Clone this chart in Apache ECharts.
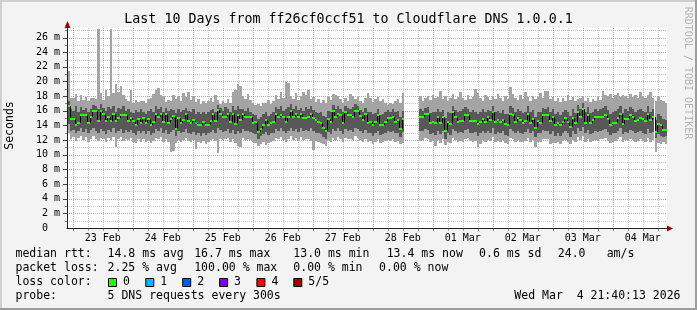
<!DOCTYPE html>
<html><head><meta charset="utf-8">
<script src="https://cdn.jsdelivr.net/npm/echarts@6/dist/echarts.min.js"></script>
<style>html,body{margin:0;padding:0;background:#f3f3f3}#c{width:697px;height:310px}</style>
</head><body><div id="c"></div>
<script>
// ---------- data ----------
const startHour = 21 + 40/60;          // Feb 22 21:40, hours since Feb 22 00:00
const dayLabels = ['23 Feb','24 Feb','25 Feb','26 Feb','27 Feb','28 Feb','01 Mar','02 Mar','03 Mar','04 Mar'];
const yLabelValues = [0,2,4,6,8,10,12,14,16,18,20,22,24,26];
const yMax = 27.3;

const medArr = [
16.7,14.9,14.9,14.1,14.4,15.4,15.4,15.4,14.4,15.2,16.0,16.0,
14.6,16.0,15.5,14.6,15.1,14.6,15.6,14.6,15.0,15.4,15.4,15.4,
14.6,15.0,14.6,14.0,14.9,14.4,15.0,14.3,14.9,14.1,14.5,15.6,
15.2,15.6,14.5,15.6,14.3,14.9,15.3,13.5,15.0,14.3,14.7,15.5,
14.6,14.3,14.7,14.3,14.1,14.1,14.5,14.0,14.0,14.6,15.5,14.6,
16.1,15.5,15.1,15.1,15.5,14.5,15.6,14.2,15.4,14.8,15.5,15.1,
15.1,15.1,14.4,14.5,13.1,13.5,14.1,14.8,14.1,14.3,14.5,15.6,
15.2,15.4,15.1,14.5,15.1,16.0,15.2,15.5,15.1,15.5,15.0,15.0,
15.1,15.5,15.0,14.7,14.5,14.3,13.7,13.3,14.9,14.5,16.0,15.1,
15.6,15.4,14.3,15.9,15.4,15.4,15.2,16.0,16.0,15.3,14.7,15.6,
14.4,14.5,14.0,14.5,15.4,14.0,14.0,14.5,15.0,15.0,15.1,14.5,
14.8,13.5,14.9,null,null,null,null,null,null,15.1,15.1,15.5,
15.5,14.3,14.5,14.3,15.1,14.3,15.1,13.3,14.5,14.2,15.9,15.1,
14.5,14.6,14.6,15.4,15.4,14.6,14.6,14.6,14.2,14.5,14.9,14.5,
15.1,14.8,15.8,14.5,14.7,14.5,14.7,14.2,14.1,15.6,15.4,14.5,
15.0,14.8,14.3,14.6,15.6,14.4,14.9,13.7,14.6,14.4,15.4,15.4,
15.4,14.6,15.1,14.0,14.4,14.0,14.5,15.0,14.5,13.8,15.0,14.4,
15.9,15.1,16.3,14.4,15.4,14.3,14.7,15.1,15.1,15.1,15.1,15.4,
14.9,14.0,14.4,14.4,15.0,15.5,14.2,14.9,14.9,15.4,15.1,14.6,
14.8,15.0,14.9,14.6,15.6,14.7,15.1,13.1,14.2,14.0,13.4,13.4];

const maxArr = [
21.4,17.8,17.8,18.3,17.4,18.1,17.5,17.9,17.3,17.8,17.8,17.6,
27.2,18.4,17.5,18.9,18.0,27.2,18.4,19.6,18.6,19.4,18.2,17.6,
17.4,18.8,17.1,17.5,17.2,17.4,17.3,17.0,17.6,17.8,18.3,18.9,
19.1,18.1,18.0,17.2,17.5,17.4,18.2,17.6,18.0,17.4,18.4,17.9,
18.6,17.5,18.0,17.2,17.6,16.9,17.4,17.0,17.3,17.8,17.2,18.1,
17.5,16.9,17.4,17.1,17.6,17.0,18.6,18.8,19.6,19.4,18.0,17.6,
18.3,17.5,17.0,16.8,16.9,16.6,17.1,17.0,17.5,16.9,17.4,18.1,
17.6,18.5,17.8,19.9,19.8,18.0,17.6,18.4,17.5,18.0,18.5,18.2,
18.9,17.6,17.9,17.2,17.6,17.0,17.5,17.1,17.9,17.5,18.3,18.2,
18.0,17.6,17.1,17.8,17.4,18.3,18.0,17.6,17.9,17.4,17.1,17.7,
18.4,17.8,17.2,17.6,17.9,17.3,17.6,17.0,16.8,17.1,16.9,17.4,
17.6,17.0,18.4,null,null,null,null,null,null,18.0,17.4,17.8,
18.0,17.5,18.2,17.7,17.9,18.7,17.6,18.0,17.4,17.8,18.3,17.6,
17.9,18.6,17.7,17.5,18.1,17.6,17.9,19.0,18.4,17.8,17.4,18.2,
17.9,17.5,18.0,17.6,18.3,17.7,17.4,18.0,17.6,19.2,18.3,17.8,
17.5,18.1,17.6,18.5,17.9,17.4,18.0,17.6,17.9,18.4,17.8,18.7,
18.7,17.6,17.9,17.3,17.7,17.2,17.8,17.4,18.1,17.5,17.9,17.3,
17.6,17.8,18.0,17.4,17.8,17.2,17.6,17.4,17.9,17.5,18.7,18.2,
18.0,18.3,17.8,18.1,18.4,17.9,18.2,18.0,17.7,18.3,17.9,18.1,
17.8,18.5,18.0,17.7,18.2,18.6,17.8,17.4,18.0,17.5,17.3,17.0];

const p4Arr = [
17.4,16.2,16.0,16.6,15.8,16.5,16.1,16.4,15.9,16.3,16.8,16.6,
16.2,16.9,16.4,16.0,16.5,16.3,16.7,15.9,16.4,16.2,16.6,16.0,
16.3,15.9,15.7,16.1,15.8,16.2,15.9,15.6,16.0,16.3,15.8,16.6,
16.2,16.5,15.9,16.4,16.0,16.3,16.1,15.7,16.2,15.9,16.1,16.4,
16.0,15.8,16.2,15.6,15.9,15.5,15.8,15.6,15.9,16.1,16.3,15.9,
16.8,16.4,16.0,16.5,16.2,15.8,16.6,16.1,16.7,16.2,16.3,16.0,
16.4,15.9,15.6,15.4,14.9,15.2,15.5,15.8,15.3,15.6,15.8,16.5,
16.2,16.6,16.0,16.3,16.5,16.9,16.2,16.7,16.1,16.4,16.0,16.5,
16.3,16.6,16.1,15.9,15.7,15.9,15.3,15.2,16.0,15.8,16.8,16.2,
16.7,16.3,15.8,16.6,16.4,16.2,16.5,16.9,16.7,16.1,15.9,16.4,
15.8,15.9,15.5,15.7,16.2,15.4,15.6,15.9,16.1,15.8,16.2,15.9,
16.0,15.1,16.0,null,null,null,null,null,null,16.2,16.0,16.4,
16.5,15.7,15.9,15.8,16.2,15.8,16.1,15.0,15.9,15.7,16.6,16.1,
15.9,16.0,16.2,16.5,16.3,15.8,16.1,15.9,15.6,15.8,16.2,15.9,
16.1,16.0,16.7,15.8,16.0,15.7,16.1,15.5,15.6,16.6,16.4,15.8,
16.2,16.0,15.7,15.9,16.7,15.8,16.1,15.2,15.9,15.8,16.4,16.2,
16.5,15.9,16.2,15.5,15.8,15.4,15.9,16.1,15.8,15.3,16.2,15.7,
16.8,16.3,17.0,15.9,16.5,15.7,15.9,16.2,16.0,16.3,16.4,16.6,
16.1,15.6,15.8,16.0,16.3,16.6,15.7,16.2,16.0,16.5,16.2,15.9,
16.1,16.3,16.0,15.8,16.6,15.9,16.2,14.8,15.5,15.3,14.9,14.8];

const p2Arr = [
14.2,13.2,13.4,12.9,13.3,13.6,13.1,13.5,12.9,13.4,13.7,13.2,
13.0,13.5,13.3,12.8,13.4,13.1,13.6,12.9,13.3,13.5,13.0,13.4,
13.1,13.4,12.9,12.7,13.2,12.9,13.3,12.8,13.2,12.7,13.0,13.5,
13.3,13.6,12.9,13.4,12.8,13.1,13.4,12.6,13.2,12.9,13.1,13.5,
13.0,12.8,13.1,12.7,12.9,12.6,13.0,12.7,12.9,13.1,13.4,13.0,
13.6,13.4,13.1,13.3,13.5,12.9,13.4,12.8,13.2,12.9,13.5,13.2,
13.3,13.1,12.9,12.8,12.2,12.5,12.8,13.1,12.7,12.9,13.0,13.5,
13.3,13.6,13.2,12.9,13.3,13.7,13.2,13.5,13.1,13.6,13.2,13.4,
13.3,13.6,13.2,13.0,12.9,12.8,12.4,12.2,13.1,12.8,13.5,13.2,
13.6,13.3,12.8,13.5,13.3,13.4,13.1,13.7,13.5,13.2,12.9,13.4,
12.9,13.0,12.6,12.9,13.3,12.7,12.8,13.0,13.2,13.1,13.3,12.9,
13.0,12.4,13.1,null,null,null,null,null,null,13.3,13.2,13.5,
13.4,12.8,13.0,12.7,13.2,12.8,13.3,12.2,13.0,12.7,13.5,13.2,
12.9,13.1,13.0,13.4,13.5,13.0,12.9,13.1,12.6,12.9,13.2,12.9,
13.2,13.0,13.6,12.8,13.1,12.9,13.2,12.7,12.6,13.5,13.3,12.9,
13.2,13.0,12.8,13.1,13.5,12.9,13.2,12.4,13.0,12.9,13.4,13.3,
13.3,12.8,13.2,12.6,12.9,12.5,13.0,13.2,12.9,12.4,13.2,12.8,
13.6,13.2,13.8,12.9,13.4,12.8,13.0,13.2,13.1,13.3,13.4,13.5,
13.1,12.7,12.9,13.0,13.3,13.6,12.8,13.1,13.0,13.4,13.2,12.9,
13.1,13.3,13.0,12.8,13.5,12.9,13.1,12.3,12.8,12.6,12.4,12.5];

const minArr = [
12.9,12.2,12.4,11.9,12.3,12.5,12.0,12.4,11.8,12.2,12.6,12.1,
11.9,12.3,12.2,11.7,12.3,12.0,12.4,11.0,12.1,12.4,11.9,12.2,
12.0,12.3,11.8,11.6,12.1,11.8,12.2,11.7,12.0,11.6,11.9,12.3,
12.1,12.4,11.8,12.2,11.7,10.4,10.5,11.6,12.0,11.8,12.0,12.3,
11.9,11.7,12.0,10.8,11.8,11.6,11.9,11.5,11.8,12.0,12.2,11.9,
10.2,12.2,12.0,12.1,12.3,11.8,12.2,11.6,11.2,11.1,12.3,12.0,
12.1,12.0,11.8,11.6,11.2,11.5,11.7,11.3,11.6,11.8,11.9,12.3,
12.1,12.4,12.0,11.8,12.1,12.5,12.0,12.3,11.9,12.4,12.0,12.2,
12.1,11.9,10.7,11.9,11.8,11.6,11.5,11.2,12.0,11.7,12.3,12.0,
12.4,12.1,11.7,12.3,12.1,12.2,12.0,12.5,12.3,12.0,11.8,12.2,
11.8,11.9,11.5,11.8,12.1,11.6,11.7,11.9,12.0,11.9,12.1,11.8,
11.9,11.4,11.6,null,null,null,null,null,null,11.9,12.0,12.3,
12.2,11.7,11.9,11.2,12.0,11.6,12.1,11.3,11.8,11.6,12.3,12.0,
11.8,11.9,11.8,12.2,12.3,11.9,11.8,11.9,11.0,11.4,12.0,11.7,
12.0,11.9,12.4,11.7,11.9,11.8,12.0,11.6,11.5,12.3,12.1,11.8,
12.0,11.8,11.7,11.9,12.3,11.8,12.0,11.0,11.8,11.7,12.2,12.1,
12.1,11.5,11.6,11.6,11.8,11.5,11.9,12.0,11.8,11.4,12.0,11.7,
12.4,12.0,12.5,11.8,12.2,11.7,11.9,12.0,11.9,12.1,12.2,12.3,
11.9,11.6,11.8,11.9,12.1,12.4,11.7,12.0,11.9,12.2,12.0,11.8,
11.9,12.1,11.9,11.7,12.3,11.8,12.0,10.4,11.6,11.5,11.7,11.4];

const lossEvents = [[51, 1]];   // [hour index, lost pings]
const lossColors = ['#26ff00','#00b8ff','#0059ff','#7e00ff','#ff0000','#a10000'];
const lossLabels = ['0','1','2','3','4','5/5'];

const titleText = 'Last 10 Days from ff26cf0ccf51 to Cloudflare DNS 1.0.0.1';
const rttStats  = ['14.8 ms avg','16.7 ms max','13.0 ms min','13.4 ms now','0.6 ms sd','24.0','am/s'];
const lossStats = ['2.25 % avg','100.00 % max','0.00 % min','0.00 % now'];
const probeText = '5 DNS requests every 300s';
const stampText = 'Wed Mar  4 21:40:13 2026';

// ---------- layout / style ----------
const FONT = '"DejaVu Sans Mono", monospace';
const MG = 'rgba(220,60,60,0.55)', GR = 'rgba(140,140,140,0.5)';
const MGT = 'rgba(220,40,40,0.8)', GRT = 'rgba(120,120,120,0.7)';
const LIGHT = '#a4a4a4', DARK = '#585858';
const GL = 67, GT = 28, GW = 600, GH = 200;
const N = medArr.length;
const xMin = startHour, xMax = startHour + N;

const lossAt = {};
lossEvents.forEach(e => { lossAt[e[0]] = e[1]; });

const bandRows = [], medRows = [], connRows = [];
for (let i = 0; i < N; i++) {
  if (medArr[i] == null) continue;
  bandRows.push([xMin + i, xMin + i + 1, minArr[i], maxArr[i], p2Arr[i], p4Arr[i]]);
  medRows.push([xMin + i, xMin + i + 1, medArr[i], lossAt[i] || 0]);
  if (i > 0 && medArr[i - 1] != null) connRows.push([xMin + i, medArr[i - 1], medArr[i]]);
}
const vGrid = [];
for (let h = 24; h < xMax; h += 6) if (h > xMin) vGrid.push([h, h % 24 === 0 ? 1 : 0]);
const hGrid = [];
for (let v = 1; v <= Math.floor(yMax); v++) hGrid.push([v, v % 2 === 0 ? 1 : 0]);
const noonHours = dayLabels.map((d, k) => 36 + 24 * k);

function bandItem(loDim, hiDim, color) {
  return function (params, api) {
    const a = api.coord([api.value(0), api.value(hiDim)]);
    const b = api.coord([api.value(1), api.value(loDim)]);
    const x = Math.round(a[0]), x2 = Math.round(b[0]);
    const y = Math.round(a[1]), y2 = Math.round(b[1]);
    return { type: 'rect', shape: { x: x, y: y, width: x2 - x, height: y2 - y }, style: { fill: color } };
  };
}
function medItem(params, api) {
  const a = api.coord([api.value(0), api.value(2)]);
  const b = api.coord([api.value(1), api.value(2)]);
  const x = Math.round(a[0]), x2 = Math.round(b[0]);
  const y = Math.round(a[1]) - 1;
  return { type: 'rect', shape: { x: x, y: y, width: x2 - x, height: 2 }, style: { fill: lossColors[api.value(3)] } };
}
function connItem(params, api) {
  const a = api.coord([api.value(0), api.value(1)]);
  const b = api.coord([api.value(0), api.value(2)]);
  const x = Math.round(a[0]) + 0.5;
  return { type: 'line', shape: { x1: x, y1: Math.round(a[1]), x2: x, y2: Math.round(b[1]) }, style: { stroke: '#000', lineWidth: 1 } };
}
function vGridItem(params, api) {
  const h = api.value(0), major = api.value(1) === 1;
  const t = api.coord([h, yMax]), b = api.coord([h, 0]);
  const x = Math.round(t[0]) + 0.5;
  return { type: 'group', children: [
    { type: 'line', shape: { x1: x, y1: t[1], x2: x, y2: b[1] }, style: { stroke: major ? MG : GR, lineWidth: 1, lineDash: [1, 1] } },
    { type: 'line', shape: { x1: x, y1: b[1], x2: x, y2: b[1] + 3 }, style: { stroke: major ? MGT : GRT, lineWidth: 1 } }
  ] };
}
function hGridItem(params, api) {
  const v = api.value(0), major = api.value(1) === 1;
  const l = api.coord([xMin, v]), r = api.coord([xMax, v]);
  const y = Math.round(l[1]) + 0.5;
  return { type: 'group', children: [
    { type: 'line', shape: { x1: l[0], y1: y, x2: r[0], y2: y }, style: { stroke: major ? MG : GR, lineWidth: 1, lineDash: [1, 1] } },
    { type: 'line', shape: { x1: l[0] - (major ? 4 : 2), y1: y, x2: l[0], y2: y }, style: { stroke: major ? '#444' : '#888', lineWidth: 1 } }
  ] };
}

function txt(x, y, s, size, align, extra) {
  return Object.assign({ type: 'text', x: x, y: y, z: 20,
    style: { text: s, font: size + 'px ' + FONT, fill: '#000', textAlign: align || 'left', textVerticalAlign: 'middle' } }, extra || {});
}

const rttX = [107.6, 194.2, 293.3, 386.7, 479.1, 557.8, 606.7];
const lossX = [107.6, 194.2, 293.3, 379.1];
const boxX = [108, 145.3, 182.2, 219.1, 256.4, 293.3];
const LS = 11.5;
const rows = [254.3, 268.3, 282.3, 296];

const graphic = [
  { type: 'rect', shape: { x: 0, y: 0, width: 697, height: 2 }, style: { fill: '#cfcfcf' }, z: 20 },
  { type: 'rect', shape: { x: 0, y: 0, width: 2, height: 310 }, style: { fill: '#cfcfcf' }, z: 20 },
  { type: 'rect', shape: { x: 0, y: 308, width: 697, height: 2 }, style: { fill: '#9e9e9e' }, z: 20 },
  { type: 'rect', shape: { x: 695, y: 0, width: 2, height: 310 }, style: { fill: '#9e9e9e' }, z: 20 },
  txt(348.5, 19.3, titleText, 13.3, 'center'),
  txt(10, 125.5, 'Seconds', LS, 'center', { rotation: Math.PI / 2 }),
  { type: 'text', x: 688, y: 73, rotation: -Math.PI / 2, z: 20,
    style: { text: 'RRDTOOL / TOBI OETIKER', font: '10px ' + FONT, fill: '#b4b4b4', textAlign: 'center', textVerticalAlign: 'middle' } },
  { type: 'polygon', z: 20, shape: { points: [[GL + 0.5, GT - 7], [GL - 2.5, GT], [GL + 3.5, GT]] }, style: { fill: '#a00000' } },
  { type: 'polygon', z: 20, shape: { points: [[GL + GW + 6, GT + GH + 0.5], [GL + GW, GT + GH - 2.5], [GL + GW, GT + GH + 3.5]] }, style: { fill: '#a00000' } },
  txt(15.5, rows[0], 'median rtt:', LS),
  txt(15.5, rows[1], 'packet loss:', LS),
  txt(15.5, rows[2], 'loss color:', LS),
  txt(15.5, rows[3], 'probe:', LS),
  txt(107.6, rows[3], probeText, LS),
  txt(680.5, rows[3], stampText, LS, 'right')
];
rttStats.forEach((s, k) => graphic.push(txt(rttX[k], rows[0], s, LS)));
lossStats.forEach((s, k) => graphic.push(txt(lossX[k], rows[1], s, LS)));
lossLabels.forEach((s, k) => {
  graphic.push({ type: 'rect', z: 20, shape: { x: boxX[k] + 0.5, y: 278.5, width: 8, height: 8 }, style: { fill: lossColors[k], stroke: '#000', lineWidth: 1 } });
  graphic.push(txt(boxX[k] + 15, rows[2], s, LS));
});

const chart = echarts.init(document.getElementById('c'), null, { renderer: 'canvas', width: 697, height: 310 });
chart.setOption({
  backgroundColor: '#f3f3f3',
  animation: false,
  grid: { left: GL, top: GT, width: GW, height: GH, show: true, backgroundColor: '#ffffff', borderWidth: 0 },
  xAxis: {
    type: 'value', min: xMin, max: xMax, z: 10,
    splitLine: { show: false }, axisTick: { show: false },
    axisLine: { show: true, lineStyle: { color: '#222', width: 1 } },
    axisLabel: { customValues: noonHours, formatter: v => dayLabels[Math.round((v - 36) / 24)],
      color: '#000', fontFamily: FONT, fontSize: 10, margin: 5 }
  },
  yAxis: {
    type: 'value', min: 0, max: yMax, z: 10,
    splitLine: { show: false }, axisTick: { show: false },
    axisLine: { show: true, lineStyle: { color: '#222', width: 1 } },
    axisLabel: { customValues: yLabelValues, formatter: v => v === 0 ? '0\u00a0\u00a0' : v + ' m',
      color: '#000', fontFamily: FONT, fontSize: 10, margin: 7 }
  },
  series: [
    { type: 'custom', name: 'vgrid', z: 1, silent: true, data: vGrid, renderItem: vGridItem, encode: { x: 0 } },
    { type: 'custom', name: 'hgrid', z: 1, silent: true, data: hGrid, renderItem: hGridItem, encode: { y: 0 } },
    { type: 'custom', name: 'ping range', z: 2, silent: true, data: bandRows, renderItem: bandItem(2, 3, LIGHT), encode: { x: [0, 1], y: [2, 3] } },
    { type: 'custom', name: 'inner pings', z: 3, silent: true, data: bandRows, renderItem: bandItem(4, 5, DARK), encode: { x: [0, 1], y: [4, 5] } },
    { type: 'custom', name: 'median step', z: 4, silent: true, data: connRows, renderItem: connItem, encode: { x: 0, y: [1, 2] } },
    { type: 'custom', name: 'median rtt', z: 5, silent: true, data: medRows, renderItem: medItem, encode: { x: [0, 1], y: 2 } }
  ],
  graphic: graphic
});
</script></body></html>
